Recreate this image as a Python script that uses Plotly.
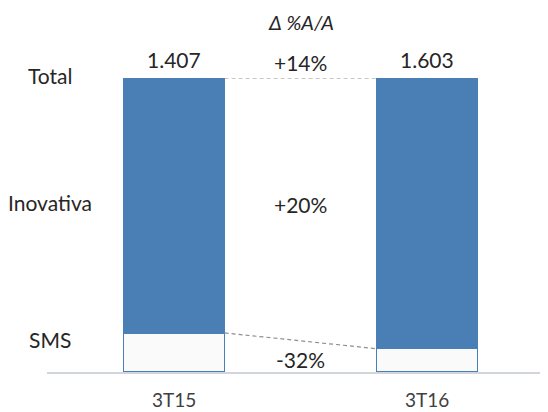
import plotly.graph_objects as go

periods = ["3T15", "3T16"]
sms = [187, 127]
inovativa = [1220, 1476]
totals_text = ["1.407", "1.603"]
segment_names = ["Total", "Inovativa", "SMS"]
growth_text = ["+14%", "+20%", "-32%"]
header_text = "Δ %A/A"

blue = "#4a7fb5"
txt = "#262626"
font = "Lato"
bar_w = 0.4

xpos = list(range(len(periods)))
totals = [s + i for s, i in zip(sms, inovativa)]
sms_share = [s / t * 100 for s, t in zip(sms, totals)]

fig = go.Figure()
fig.add_trace(go.Bar(
    x=xpos, y=sms, width=bar_w, name="SMS",
    marker=dict(color="#fafafa", line=dict(color=blue, width=1.5)),
    hoverinfo="skip"
))
fig.add_trace(go.Bar(
    x=xpos, y=inovativa, width=bar_w, name="Inovativa",
    marker=dict(color=blue, line=dict(color=blue, width=1)),
    hoverinfo="skip"
))

# dashed connectors between the bars
x_conn = [xpos[0] + bar_w / 2, xpos[1] - bar_w / 2]
for ys in ([100, 100], sms_share):
    fig.add_trace(go.Scatter(
        x=x_conn, y=ys, mode="lines",
        line=dict(color="#8f8f8f", dash="4px,3px", width=1.2), hoverinfo="skip"
    ))

annotations = []
for x, t in zip(xpos, totals_text):
    annotations.append(dict(x=x, xref="x", y=1.062, yref="paper", text=t,
                            xanchor="center", yanchor="middle",
                            showarrow=False, font=dict(size=21, color=txt)))

# period labels under the axis
for x, t in zip(xpos, periods):
    annotations.append(dict(x=x, xref="x", y=-0.094, yref="paper", text=t,
                            xanchor="center", yanchor="middle",
                            showarrow=False, font=dict(size=19, color="#404040")))

mid = (xpos[0] + xpos[1]) / 2
for t, yp in zip(growth_text, [1.053, 0.571, 0.041]):
    annotations.append(dict(x=mid, xref="x", y=yp, yref="paper", text=t,
                            xanchor="center", yanchor="middle",
                            showarrow=False, font=dict(size=21, color=txt)))

annotations.append(dict(x=mid, xref="x", y=1.19, yref="paper",
                        text="<i>" + header_text + "</i>", showarrow=False,
                        xanchor="center", yanchor="middle",
                        font=dict(size=20, color=txt)))

for t, yp in zip(segment_names, [1.010, 0.578, 0.109]):
    annotations.append(dict(x=0.006, xref="paper", y=yp, yref="paper", text=t,
                            xanchor="center", yanchor="middle",
                            showarrow=False, font=dict(size=21, color=txt)))

# page has an 8px body margin, so the figure is 8px smaller than the window
fig.update_layout(
    barmode="stack",
    barnorm="percent",
    showlegend=False,
    width=540,
    height=404,
    margin=dict(l=39, r=0, t=70, b=40),
    plot_bgcolor="white",
    paper_bgcolor="white",
    font=dict(family=font, color=txt),
    annotations=annotations,
)
fig.update_xaxes(
    range=[-0.502, 1.478], showticklabels=False,
    showline=True, linecolor="#d0d5de", linewidth=1.5,
    showgrid=False, zeroline=False, ticks="", automargin=False,
)
fig.update_yaxes(range=[0, 100], visible=False)

fig.write_html("out.html")
